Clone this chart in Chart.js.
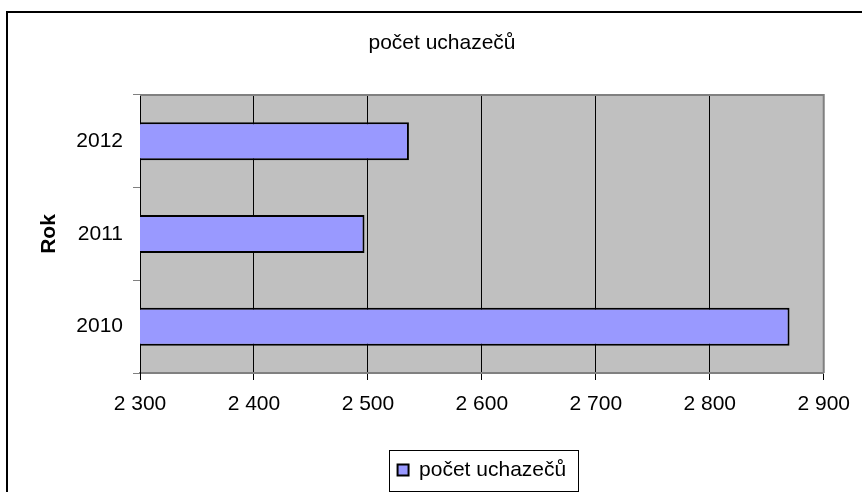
<!DOCTYPE html>
<html>
<head>
<meta charset="utf-8">
<title>počet uchazečů</title>
<script src="https://cdn.jsdelivr.net/npm/chart.js@4"></script>
<style>
  html, body { margin: 0; padding: 0; background: #fff; overflow: hidden; }
  #wrap { position: relative; width: 862px; height: 492px; }
</style>
</head>
<body>
<div id="wrap"><canvas id="chart" width="862" height="492"></canvas></div>
<script>
// data
const years = ["2010", "2011", "2012"];
const applicants = [2870, 2497, 2536];
const seriesName = "počet uchazečů";
const chartTitle = "počet uchazečů";
const axisTitle = "Rok";
const xMin = 2300, xMax = 2900, xStep = 100;

const FONT = "'Liberation Sans', Arial, sans-serif";

// thousands separated by a space, like "2 300"
const fmt = v => String(v).replace(/\B(?=(\d{3})+$)/g, " ");

/* outer frame, grey plot area, title and legend box */
const excelLook = {
  id: "excelLook",
  beforeDraw(chart) {
    const { ctx, chartArea: a } = chart;
    ctx.save();
    ctx.fillStyle = "#fff";
    ctx.fillRect(0, 0, chart.width, chart.height);
    ctx.fillStyle = "#c0c0c0";
    ctx.fillRect(a.left, a.top, a.right - a.left, a.bottom - a.top);
    ctx.restore();
  },
  afterDatasetsDraw(chart) {
    const { ctx, chartArea: a } = chart;
    ctx.save();
    ctx.strokeStyle = "#808080";
    ctx.lineWidth = 2;
    ctx.beginPath();
    ctx.moveTo(a.left, a.top);
    ctx.lineTo(a.right, a.top);
    ctx.lineTo(a.right, a.bottom);
    ctx.stroke();
    ctx.restore();
  },
  afterDraw(chart) {
    const { ctx } = chart;
    ctx.save();
    // chart frame (runs past the right and bottom edge)
    ctx.strokeStyle = "#000";
    ctx.lineWidth = 2;
    ctx.strokeRect(7, 12, 920, 520);

    // title
    ctx.fillStyle = "#000";
    ctx.font = "21px " + FONT;
    ctx.textAlign = "center";
    ctx.textBaseline = "middle";
    ctx.fillText(chartTitle, 442, 43);

    // legend border
    const lg = chart.legend;
    const hb = lg.legendHitBoxes[0];
    if (hb) {
      ctx.strokeStyle = "#000";
      ctx.lineWidth = 1;
      ctx.strokeRect(Math.round(hb.left - 9) + 0.5, Math.round(lg.top) + 0.5,
                     Math.round(hb.width + 20), Math.round(lg.bottom - lg.top));
    }
    ctx.restore();
  }
};

new Chart(document.getElementById("chart"), {
  type: "bar",
  data: {
    labels: years,
    datasets: [{
      label: seriesName,
      data: applicants,
      backgroundColor: "#9999ff",
      borderColor: "#000",
      borderWidth: 2,
      borderSkipped: false,
      barPercentage: 0.41,
      categoryPercentage: 1.0
    }]
  },
  options: {
    indexAxis: "y",
    responsive: false,
    animation: false,
    devicePixelRatio: 1,
    layout: { padding: { left: 0, right: 33, top: 95, bottom: 1.5 } },
    scales: {
      x: {
        min: xMin,
        max: xMax,
        afterFit: s => { s.height = 76.5; },
        ticks: {
          stepSize: xStep,
          color: "#000",
          padding: 12,
          font: { family: FONT, size: 21 },
          callback: v => fmt(v)
        },
        grid: { color: "#000", lineWidth: 1, tickLength: 7, tickColor: "#000" },
        border: { color: "#808080", width: 2 }
      },
      y: {
        reverse: true,
        afterFit: s => { s.width = 140; },
        ticks: {
          color: "#000",
          padding: 10,
          font: { family: FONT, size: 21 }
        },
        grid: { drawOnChartArea: false, offset: true, tickLength: 7, tickColor: "#808080" },
        border: { color: "#000", width: 1 },
        title: {
          display: true,
          text: axisTitle,
          color: "#000",
          font: { family: FONT, size: 21, weight: "bold" },
          padding: { top: 37, bottom: 0 }
        }
      }
    },
    plugins: {
      title: { display: false },
      tooltip: { enabled: false },
      legend: {
        position: "bottom",
        fullSize: false,
        labels: {
          color: "#000",
          boxWidth: 11,
          boxHeight: 11,
          padding: 10,
          font: { family: FONT, size: 21 }
        }
      }
    }
  },
  plugins: [excelLook]
});
</script>
</body>
</html>
